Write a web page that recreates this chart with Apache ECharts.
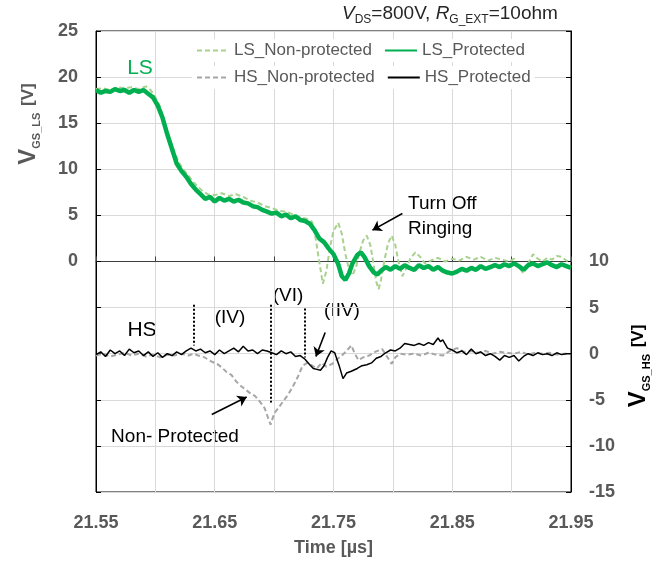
<!DOCTYPE html>
<html>
<head>
<meta charset="utf-8">
<script src="https://cdn.jsdelivr.net/npm/echarts@6/dist/echarts.min.js"></script>
<style>html,body{margin:0;padding:0;background:#fff}#c{width:663px;height:562px}</style>
</head>
<body>
<div id="c"></div>
<script>
// ---- data (time in µs, voltage in V) ----
const xTicks = [21.55, 21.65, 21.75, 21.85, 21.95];

const lsProtT = [21.550,21.554,21.558,21.562,21.566,21.570,21.574,21.578,21.582,21.586,21.590,21.594,21.598,21.602,21.606,21.610,21.614,21.618,21.622,21.626,21.630,21.634,21.638,21.642,21.646,21.650,21.654,21.658,21.662,21.666,21.670,21.674,21.678,21.682,21.686,21.690,21.694,21.698,21.702,21.706,21.710,21.714,21.718,21.722,21.726,21.730,21.734,21.738,21.742,21.746,21.750,21.754,21.757,21.760,21.763,21.766,21.770,21.773,21.776,21.780,21.784,21.787,21.790,21.794,21.798,21.802,21.806,21.810,21.814,21.818,21.822,21.826,21.830,21.834,21.838,21.842,21.846,21.850,21.854,21.858,21.862,21.866,21.870,21.874,21.878,21.882,21.886,21.890,21.894,21.898,21.902,21.906,21.910,21.914,21.918,21.922,21.926,21.930,21.934,21.938,21.942,21.946,21.950];
const lsProtV = [18.6,18.3,18.5,18.4,18.7,18.5,18.6,18.3,18.6,18.4,18.6,18.2,17.8,16.9,15.6,13.8,12.2,10.6,9.8,9.2,8.4,7.8,7.3,6.8,7.0,6.5,6.9,6.6,6.8,6.5,6.7,6.4,6.3,6.0,5.9,5.6,5.4,5.2,5.3,4.9,5.1,4.7,4.9,4.5,4.4,4.1,3.4,2.5,2.1,1.4,0.8,-0.3,-1.6,-2.0,-1.3,-0.2,0.7,1.0,0.5,-0.5,-1.2,-1.4,-1.0,-0.6,-0.9,-0.5,-0.8,-0.4,-0.7,-0.9,-0.4,-0.7,-0.5,-0.9,-0.6,-1.0,-1.2,-1.3,-1.1,-0.8,-1.0,-0.7,-0.9,-0.5,-0.8,-0.6,-0.4,-0.6,-0.3,-0.5,-0.2,-0.5,-0.9,-0.4,-0.2,-0.5,-0.3,-0.1,-0.4,-0.6,-0.3,-0.5,-0.7];

const lsNonT = [21.550,21.556,21.562,21.568,21.574,21.580,21.586,21.592,21.596,21.600,21.604,21.608,21.612,21.616,21.620,21.624,21.628,21.632,21.636,21.640,21.644,21.650,21.656,21.662,21.668,21.674,21.680,21.686,21.692,21.698,21.704,21.710,21.716,21.722,21.728,21.732,21.735,21.738,21.741,21.744,21.747,21.750,21.754,21.757,21.760,21.763,21.766,21.769,21.772,21.775,21.778,21.781,21.784,21.786,21.788,21.790,21.793,21.796,21.799,21.802,21.805,21.808,21.811,21.815,21.819,21.823,21.827,21.832,21.838,21.844,21.850,21.856,21.862,21.868,21.874,21.880,21.886,21.892,21.898,21.902,21.906,21.910,21.914,21.918,21.922,21.926,21.930,21.934,21.938,21.942,21.946,21.950];
const lsNonV = [18.7,18.8,18.6,18.9,18.8,18.9,18.7,19.0,18.6,17.8,16.8,15.0,13.4,11.9,10.7,9.9,9.3,8.6,8.1,7.6,7.3,7.2,7.4,7.1,7.3,7.0,6.6,6.4,6.0,5.8,5.5,5.4,5.1,4.8,4.6,4.3,2.5,0.0,-2.4,-1.0,1.5,3.3,4.2,3.0,0.8,-0.8,-1.5,-0.6,1.0,2.3,2.8,1.8,-0.5,-2.2,-3.0,-2.0,0.2,2.0,2.8,1.8,-0.2,-1.6,-0.8,0.4,1.0,0.5,-0.2,0.1,0.4,0.0,0.3,0.1,0.5,0.2,0.5,0.1,0.4,0.2,0.0,0.3,-0.6,-1.3,-0.2,0.8,0.3,0.0,0.4,0.2,0.6,0.5,0.1,-0.1];

const hsProtT = [21.550,21.554,21.558,21.562,21.566,21.570,21.574,21.578,21.582,21.586,21.590,21.594,21.598,21.602,21.606,21.610,21.614,21.618,21.622,21.626,21.630,21.634,21.638,21.642,21.646,21.650,21.654,21.658,21.662,21.666,21.670,21.674,21.678,21.682,21.686,21.690,21.694,21.698,21.702,21.706,21.710,21.714,21.718,21.722,21.726,21.730,21.733,21.736,21.739,21.742,21.745,21.748,21.751,21.755,21.758,21.761,21.765,21.770,21.774,21.778,21.782,21.786,21.790,21.794,21.798,21.802,21.806,21.810,21.814,21.818,21.822,21.826,21.830,21.834,21.838,21.840,21.842,21.846,21.850,21.854,21.858,21.862,21.866,21.870,21.874,21.878,21.882,21.886,21.890,21.894,21.898,21.902,21.906,21.910,21.914,21.918,21.922,21.926,21.930,21.934,21.938,21.942,21.946,21.950];
const hsProtV = [-0.1,0.2,-0.3,0.4,0.0,0.3,-0.2,0.5,0.1,0.3,-0.2,0.2,-0.3,0.1,-0.4,0.0,-0.2,0.2,-0.1,0.3,0.6,0.3,0.5,0.1,0.3,-0.1,0.4,0.0,0.3,0.6,0.2,0.8,0.3,0.4,0.0,0.4,0.3,0.1,-0.1,0.3,0.0,0.2,-0.3,-0.2,-0.6,-1.2,-1.6,-1.7,-1.8,-1.3,-0.4,0.3,0.1,-1.4,-2.7,-2.1,-1.9,-1.6,-1.3,-1.2,-1.0,-0.5,-0.3,0.1,0.4,0.3,0.6,1.1,1.0,0.9,1.1,0.9,1.2,1.0,1.7,1.3,1.5,0.6,0.4,0.1,0.3,-0.1,0.5,0.0,0.2,-0.2,0.0,-0.3,-0.7,-0.2,-0.4,-0.2,-0.8,-0.3,0.0,-0.2,0.1,-0.1,0.0,-0.2,0.1,-0.1,0.0,0.0];

const hsNonT = [21.550,21.556,21.562,21.568,21.574,21.580,21.586,21.592,21.598,21.604,21.610,21.616,21.622,21.628,21.632,21.636,21.640,21.644,21.648,21.652,21.656,21.660,21.664,21.668,21.672,21.676,21.680,21.684,21.688,21.692,21.695,21.697,21.700,21.704,21.708,21.712,21.716,21.720,21.724,21.728,21.732,21.736,21.740,21.744,21.749,21.753,21.757,21.761,21.765,21.768,21.771,21.775,21.780,21.785,21.791,21.795,21.799,21.802,21.806,21.812,21.818,21.824,21.830,21.836,21.842,21.848,21.854,21.860,21.866,21.872,21.878,21.884,21.890,21.896,21.902,21.908,21.914,21.920,21.926,21.932,21.938,21.944,21.950];
const hsNonV = [-0.2,0.0,-0.3,-0.1,0.1,-0.2,0.0,-0.3,-0.1,-0.4,-0.1,-0.2,0.0,-0.2,0.0,-0.2,-0.3,-0.6,-0.9,-1.1,-1.5,-2.0,-2.3,-3.0,-3.5,-3.9,-4.3,-4.6,-5.2,-5.9,-7.0,-7.7,-6.5,-5.8,-5.1,-4.4,-3.5,-2.5,-1.3,-1.0,-1.3,-1.6,-1.0,-1.4,-1.1,-0.6,-0.2,0.3,0.9,0.0,-0.7,-0.4,-0.2,0.2,0.5,-0.3,-1.1,-0.4,0.0,-0.1,0.0,-0.2,0.1,-0.1,-0.2,0.3,0.6,0.2,0.3,0.1,0.3,0.0,0.2,0.1,0.0,0.2,-0.1,0.1,0.0,0.1,-0.1,0.0,0.0];

// annotation guide positions (data coords)
const dottedLinesHS = [[21.632, 5.3, 0.9], [21.697, 5.3, -5.3], [21.7255, 4.9, -0.4]]; // t, yTop, yBottom (right axis)
const arrowsHS = [[21.6475, -6.6, 21.6769, -4.7], [21.7430, 2.3, 21.7352, -0.3]]; // from(t,v) -> to(t,v)
const arrowsLS = [[21.808, 5.2, 21.7828, 3.4]];

const zip = (t, v) => t.map((x, i) => [x, v[i]]);

const FONT = 'Liberation Sans, Arial, sans-serif';
const GRAY = '#595959';

const chart = echarts.init(document.getElementById('c'), null, {renderer: 'canvas'});

const legendCommon = {
  left: 192, itemWidth: 32, itemHeight: 12, itemGap: 12,
  backgroundColor: '#fff', padding: [3, 4, 3, 4],
  itemStyle: {opacity: 0},
  textStyle: {color: GRAY, fontSize: 17, fontFamily: FONT},
  selectedMode: false
};

chart.setOption({
  animation: false,
  textStyle: {fontFamily: FONT},
  grid: {left: 96, right: 92, top: 31, bottom: 63, show: true, borderColor: '#000', borderWidth: 1, containLabel: false},
  legend: [
    Object.assign({top: 39, data: ['LS_Non-protected', 'LS_Protected']}, legendCommon),
    Object.assign({top: 66, data: ['HS_Non-protected', 'HS_Protected']}, legendCommon)
  ],
  xAxis: {
    type: 'value', min: 21.55, max: 21.95, interval: 0.05,
    name: 'Time [µs]', nameLocation: 'middle', nameGap: 47,
    nameTextStyle: {color: GRAY, fontSize: 18, fontWeight: 'bold', fontFamily: FONT},
    axisLine: {lineStyle: {color: '#404040', width: 1}},
    axisTick: {inside: true, length: 5, lineStyle: {color: '#404040'}},
    splitLine: {show: true, lineStyle: {color: '#D9D9D9', width: 1}},
    axisLabel: {
      margin: 22, color: GRAY, fontSize: 18, fontWeight: 'bold', fontFamily: FONT,
      formatter: v => xTicks.some(t => Math.abs(t - v) < 1e-6) ? v.toFixed(2) : ''
    }
  },
  yAxis: [
    {
      type: 'value', min: -25, max: 25, interval: 5, position: 'left',
      axisLine: {show: true, lineStyle: {color: '#000'}},
      axisTick: {show: true, inside: true, length: 5, lineStyle: {color: '#000'}},
      splitLine: {show: true, lineStyle: {color: '#D9D9D9', width: 1}},
      axisLabel: {margin: 18, color: GRAY, fontSize: 18, fontWeight: 'bold', fontFamily: FONT,
        formatter: v => v >= 0 ? String(v) : ''}
    },
    {
      type: 'value', min: -15, max: 35, interval: 5, position: 'right',
      axisLine: {show: true, lineStyle: {color: '#000'}},
      axisTick: {show: true, inside: true, length: 5, lineStyle: {color: '#000'}},
      splitLine: {show: false},
      axisLabel: {margin: 18, color: GRAY, fontSize: 18, fontWeight: 'bold', fontFamily: FONT,
        formatter: v => v <= 10 ? String(v) : ''}
    }
  ],
  series: [
    {name: 'LS_Non-protected', type: 'line', yAxisIndex: 0, data: zip(lsNonT, lsNonV), showSymbol: false, symbol: 'none', z: 2,
      lineStyle: {color: '#A9D18E', width: 2, type: [5, 3]}, itemStyle: {color: '#A9D18E'}},
    {name: 'HS_Non-protected', type: 'line', yAxisIndex: 1, data: zip(hsNonT, hsNonV), showSymbol: false, symbol: 'none', z: 2,
      lineStyle: {color: '#A6A6A6', width: 2, type: [5, 3]}, itemStyle: {color: '#A6A6A6'}},
    {name: 'LS_Protected', type: 'line', yAxisIndex: 0, data: zip(lsProtT, lsProtV), showSymbol: false, symbol: 'none', z: 3,
      lineStyle: {color: '#00B050', width: 4.5}, itemStyle: {color: '#00B050'},
      markLine: {silent: true, symbol: ['none', 'arrow'], symbolSize: 9, label: {show: false},
        lineStyle: {color: '#000', width: 1.6, type: 'solid'},
        data: arrowsLS.map(a => [{coord: [a[0], a[1]]}, {coord: [a[2], a[3]]}])}},
    {name: 'HS_Protected', type: 'line', yAxisIndex: 1, data: zip(hsProtT, hsProtV), showSymbol: false, symbol: 'none', z: 4,
      lineStyle: {color: '#000', width: 1.5}, itemStyle: {color: '#000'},
      markLine: {silent: true, symbol: ['none', 'arrow'], symbolSize: 9, label: {show: false},
        lineStyle: {color: '#000', width: 1.6, type: 'solid'},
        data: arrowsHS.map(a => [{coord: [a[0], a[1]]}, {coord: [a[2], a[3]]}])}},
    {name: 'guides', type: 'line', yAxisIndex: 1, data: [], showSymbol: false,
      markLine: {silent: true, symbol: ['none', 'none'], label: {show: false},
        lineStyle: {color: '#000', width: 2, type: [2, 2]},
        data: dottedLinesHS.map(d => [{coord: [d[0], d[1]]}, {coord: [d[0], d[2]]}])}}
  ],
  graphic: [
    {type: 'text', left: 342, top: 4, style: {
      text: '{i|V}{s|DS}{n|=800V, }{i|R}{s|G_EXT}{n|=10ohm}', fill: '#262626',
      rich: {
        i: {fontSize: 19, fontStyle: 'italic', fontFamily: FONT, fill: '#262626', verticalAlign: 'middle', lineHeight: 25},
        n: {fontSize: 19, fontFamily: FONT, fill: '#262626', verticalAlign: 'middle', lineHeight: 25},
        s: {fontSize: 12, fontFamily: FONT, fill: '#262626', verticalAlign: 'bottom', lineHeight: 25}
      }}},
    {type: 'text', x: 140, y: 68, style: {text: 'LS', fontSize: 21, fontFamily: FONT, fill: '#00B050', align: 'center', verticalAlign: 'middle'}},
    {type: 'text', x: 142, y: 330, style: {text: 'HS', fontSize: 21, fontFamily: FONT, fill: '#000', align: 'center', verticalAlign: 'middle'}},
    {type: 'text', x: 230, y: 318, style: {text: '(IV)', fontSize: 19, fontFamily: FONT, fill: '#000', align: 'center', verticalAlign: 'middle'}},
    {type: 'text', x: 288, y: 296, style: {text: '(VI)', fontSize: 19, fontFamily: FONT, fill: '#000', align: 'center', verticalAlign: 'middle'}},
    {type: 'text', x: 342, y: 311, style: {text: '(IIV)', fontSize: 19, fontFamily: FONT, fill: '#000', align: 'center', verticalAlign: 'middle'}},
    {type: 'text', x: 175, y: 437, style: {text: 'Non- Protected', fontSize: 19, fontFamily: FONT, fill: '#000', align: 'center', verticalAlign: 'middle'}},
    {type: 'text', x: 408, y: 191, style: {text: 'Turn Off\nRinging', fontSize: 19, lineHeight: 25, fontFamily: FONT, fill: '#000', align: 'left', verticalAlign: 'top'}},
    {type: 'text', x: 28, y: 124, rotation: Math.PI / 2, style: {
      text: '{v|V}{s|GS_LS}  {b|[V]}', align: 'center', verticalAlign: 'middle',
      rich: {
        v: {fontSize: 24, fontWeight: 'bold', fontFamily: FONT, fill: GRAY, verticalAlign: 'middle', lineHeight: 28},
        s: {fontSize: 11, fontWeight: 'bold', fontFamily: FONT, fill: GRAY, verticalAlign: 'bottom', lineHeight: 28},
        b: {fontSize: 17, fontWeight: 'bold', fontFamily: FONT, fill: GRAY, verticalAlign: 'middle', lineHeight: 28}
      }}},
    {type: 'text', x: 638, y: 366, rotation: Math.PI / 2, style: {
      text: '{v|V}{s|GS_HS}  {b|[V]}', align: 'center', verticalAlign: 'middle',
      rich: {
        v: {fontSize: 24, fontWeight: 'bold', fontFamily: FONT, fill: '#000', verticalAlign: 'middle', lineHeight: 28},
        s: {fontSize: 11, fontWeight: 'bold', fontFamily: FONT, fill: '#000', verticalAlign: 'bottom', lineHeight: 28},
        b: {fontSize: 17, fontWeight: 'bold', fontFamily: FONT, fill: '#000', verticalAlign: 'middle', lineHeight: 28}
      }}}
  ]
});
</script>
</body>
</html>
